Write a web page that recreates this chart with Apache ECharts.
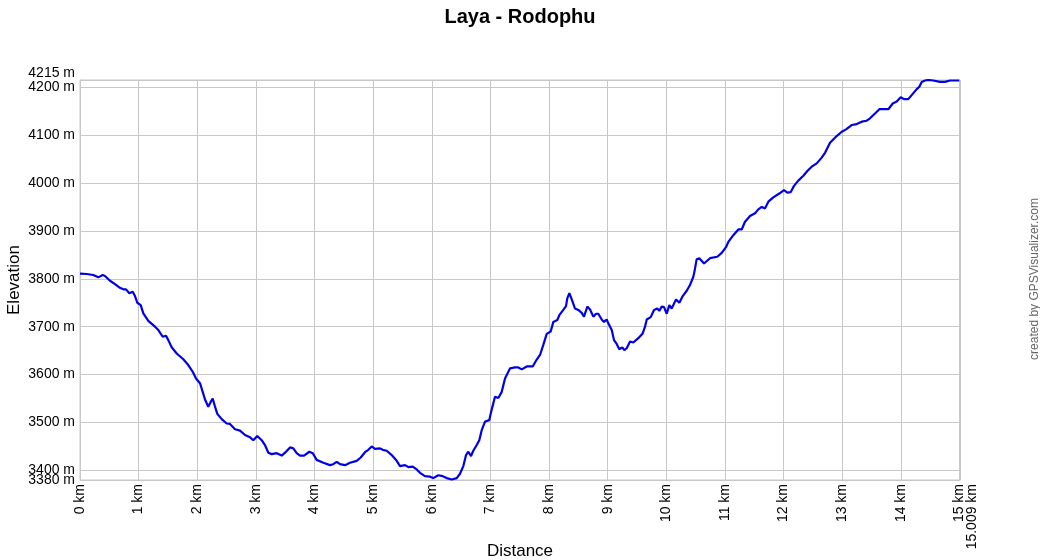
<!DOCTYPE html>
<html>
<head>
<meta charset="utf-8">
<script src="https://cdn.jsdelivr.net/npm/echarts@6/dist/echarts.min.js"></script>
<style>
html,body{margin:0;padding:0;background:#fff;}
#chart{width:1040px;height:560px;}
</style>
</head>
<body>
<div id="chart"></div>
<script>
var titleText = "Laya - Rodophu";
var creditText = "created by GPSVisualizer.com";
var distanceKm = [0,0.114,0.227,0.312,0.387,0.426,0.512,0.597,0.670,0.739,0.785,0.841,0.899,0.938,0.977,1.035,1.080,1.165,1.279,1.336,1.411,1.467,1.506,1.564,1.649,1.762,1.847,1.922,1.979,2.047,2.093,2.132,2.188,2.229,2.263,2.303,2.342,2.417,2.502,2.558,2.644,2.729,2.814,2.900,2.956,3.024,3.099,3.155,3.212,3.270,3.355,3.440,3.497,3.582,3.638,3.696,3.752,3.821,3.911,3.969,4.037,4.150,4.264,4.320,4.378,4.435,4.520,4.605,4.719,4.788,4.861,4.917,4.975,5.032,5.117,5.163,5.231,5.316,5.402,5.458,5.543,5.600,5.675,5.743,5.799,5.884,5.970,6.026,6.111,6.186,6.255,6.340,6.425,6.481,6.538,6.584,6.623,6.669,6.708,6.766,6.810,6.851,6.908,6.981,7.005,7.049,7.078,7.135,7.193,7.249,7.334,7.419,7.476,7.534,7.619,7.721,7.778,7.846,7.902,7.960,8.028,8.073,8.141,8.175,8.243,8.289,8.311,8.346,8.387,8.443,8.499,8.557,8.596,8.653,8.699,8.755,8.801,8.840,8.898,8.937,8.983,9.011,9.069,9.108,9.154,9.198,9.249,9.284,9.325,9.381,9.437,9.522,9.597,9.637,9.666,9.734,9.790,9.847,9.881,9.922,9.961,10.007,10.051,10.092,10.166,10.222,10.280,10.348,10.404,10.460,10.480,10.518,10.563,10.643,10.745,10.870,10.945,11.018,11.058,11.143,11.228,11.286,11.342,11.428,11.513,11.569,11.627,11.684,11.740,11.825,11.927,12.007,12.064,12.122,12.178,12.251,12.337,12.405,12.480,12.565,12.650,12.707,12.792,12.906,12.992,13.065,13.162,13.248,13.333,13.418,13.474,13.560,13.633,13.701,13.787,13.862,13.930,13.998,14.054,14.127,14.203,14.271,14.316,14.356,14.413,14.469,14.554,14.668,14.754,14.839,14.997,15.009];
var elevationM = [3811,3810,3808,3803,3808,3806,3796,3789,3782,3778,3778,3770,3773,3764,3750,3745,3728,3712,3700,3693,3679,3681,3672,3657,3644,3632,3620,3606,3592,3582,3564,3548,3533,3543,3550,3533,3518,3507,3498,3497,3486,3483,3474,3469,3463,3472,3463,3453,3437,3434,3436,3431,3437,3448,3446,3436,3431,3431,3439,3436,3422,3416,3411,3413,3418,3413,3411,3416,3420,3427,3438,3443,3450,3445,3446,3443,3441,3432,3420,3409,3411,3407,3408,3402,3395,3388,3387,3384,3390,3388,3384,3381,3384,3393,3409,3432,3439,3430,3441,3453,3463,3484,3502,3505,3519,3540,3554,3551,3564,3592,3613,3615,3615,3611,3617,3617,3629,3641,3662,3685,3690,3710,3714,3724,3735,3743,3759,3770,3757,3738,3735,3729,3721,3742,3736,3721,3727,3727,3715,3710,3715,3707,3693,3672,3664,3653,3657,3651,3655,3669,3667,3676,3686,3700,3715,3720,3735,3738,3733,3742,3741,3727,3745,3738,3757,3750,3764,3775,3787,3804,3815,3841,3843,3832,3843,3846,3854,3866,3877,3891,3903,3903,3919,3931,3937,3945,3950,3947,3961,3970,3978,3985,3980,3981,3994,4005,4015,4025,4034,4041,4053,4063,4084,4098,4107,4112,4121,4123,4128,4130,4135,4145,4154,4154,4154,4166,4170,4179,4175,4175,4186,4196,4201,4211,4214,4215,4214,4211,4211,4214,4214,4214];
var xMin = 0, xMax = 15.009, xStep = 1;
var yMin = 3380, yMax = 4215;
var xUnit = " km", yUnit = " m";
var xName = "Distance", yName = "Elevation";

var points = distanceKm.map(function(d, i){ return [d, elevationM[i]]; });
var chart = echarts.init(document.getElementById('chart'), null, {renderer:'canvas'});
var grayLine = '#c8c8c8';
var FONT = 'Liberation Sans, Arial, sans-serif';

function baseX(extra) {
  var o = {
    type: 'value', min: xMin, max: xMax, interval: xStep, position: 'bottom',
    axisLine: {show: false}, axisTick: {show: false}, splitLine: {show: false}
  };
  for (var k in extra) o[k] = extra[k];
  return o;
}
function baseY(extra) {
  var o = {
    type: 'value', min: yMin, max: yMax, splitNumber: 8, position: 'left',
    axisLine: {show: false}, axisTick: {show: false}, splitLine: {show: false}
  };
  for (var k in extra) o[k] = extra[k];
  return o;
}
function lab(extra) {
  var o = {fontFamily: FONT, fontSize: 14, color: '#000', hideOverlap: false};
  for (var k in extra) o[k] = extra[k];
  return o;
}

chart.setOption({
  animation: false,
  backgroundColor: '#ffffff',
  title: {
    text: titleText, left: 'center', top: 2,
    textStyle: {fontFamily: FONT, fontSize: 20, fontWeight: 'bold', color: '#000'}
  },
  grid: {left: 80, right: 80, top: 80, bottom: 80, show: true, borderColor: grayLine, borderWidth: 1,
         containLabel: false, outerBoundsMode: 'none'},
  xAxis: [
    baseX({
      name: xName, nameLocation: 'middle', nameGap: 63, nameMoveOverlap: false,
      nameTextStyle: {fontFamily: FONT, fontSize: 17, color: '#000'},
      axisLine: {show: true, lineStyle: {color: grayLine}},
      splitLine: {show: true, lineStyle: {color: grayLine, width: 1}},
      axisLabel: lab({rotate: 90, margin: 4, showMinLabel: true, showMaxLabel: false,
        formatter: function(v){ return v + xUnit; }})
    }),
    baseX({
      axisLabel: lab({rotate: 90, margin: 4, showMinLabel: false, showMaxLabel: true, verticalAlign: 'top',
        padding: [5, 0, 0, 0],
        formatter: function(v){ return v === xMax ? (v + xUnit) : ''; }})
    })
  ],
  yAxis: [
    baseY({
      name: yName, nameLocation: 'middle', nameGap: 57, nameRotate: 90, nameMoveOverlap: false,
      nameTextStyle: {fontFamily: FONT, fontSize: 17, color: '#000'},
      axisLine: {show: true, lineStyle: {color: grayLine}},
      splitLine: {show: true, lineStyle: {color: grayLine, width: 1}},
      axisLabel: lab({margin: 5, showMinLabel: false, showMaxLabel: false,
        formatter: function(v){ return v + yUnit; }})
    }),
    baseY({
      axisLabel: lab({margin: 5, showMinLabel: false, showMaxLabel: true, verticalAlign: 'bottom',
        formatter: function(v){ return v === yMax ? (v + yUnit) : ''; }})
    }),
    baseY({
      axisLabel: lab({margin: 5, showMinLabel: true, showMaxLabel: false,
        formatter: function(v){ return v === yMin ? (v + yUnit) : ''; }})
    })
  ],
  graphic: [{
    type: 'text', x: 1035, y: 279, rotation: Math.PI / 2,
    style: {text: creditText, fill: '#666', font: '12px "Liberation Sans", Arial, sans-serif', textAlign: 'center', textVerticalAlign: 'middle'}
  }],
  series: [{
    type: 'line', data: points, xAxisIndex: 0, yAxisIndex: 0, showSymbol: false, symbol: 'none',
    lineStyle: {color: '#0000e6', width: 2.2}, itemStyle: {color: '#0000e6'}
  }]
});
</script>
</body>
</html>
